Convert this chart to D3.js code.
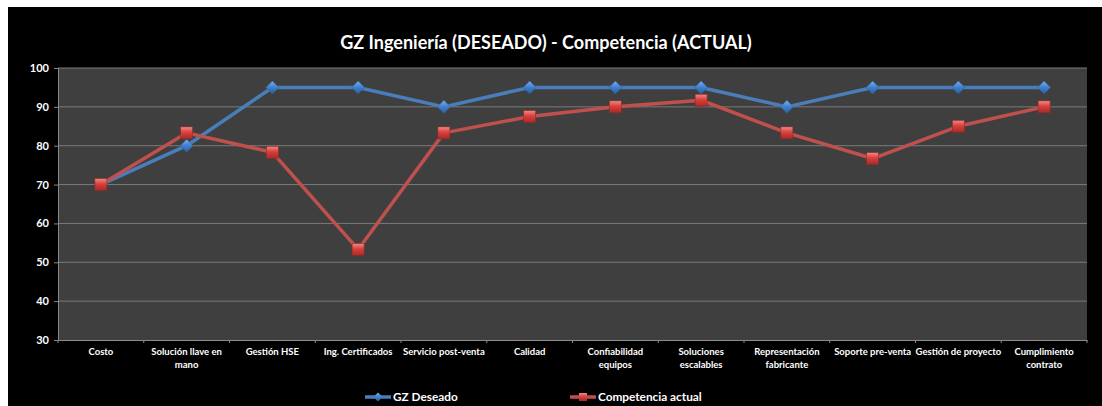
<!DOCTYPE html>
<html><head><meta charset="utf-8">
<script src="https://cdn.jsdelivr.net/npm/d3@7"></script>
<style>
html,body{margin:0;padding:0;background:#fff;}
svg{display:block;}
text{font-family:Lato,"Open Sans",sans-serif;fill:#fff;}
</style></head>
<body>
<script>
const categories = [
  ["Costo"],
  ["Solución llave en","mano"],
  ["Gestión HSE"],
  ["Ing. Certificados"],
  ["Servicio post-venta"],
  ["Calidad"],
  ["Confiabilidad","equipos"],
  ["Soluciones","escalables"],
  ["Representación","fabricante"],
  ["Soporte pre-venta"],
  ["Gestión de proyecto"],
  ["Cumplimiento","contrato"]
];
const gzDeseado = [70, 80, 95, 95, 90, 95, 95, 95, 90, 95, 95, 95];
const competenciaActual = [70, 83.3, 78.3, 53.3, 83.3, 87.5, 90, 91.7, 83.3, 76.7, 85, 90];
const yTicks = [30, 40, 50, 60, 70, 80, 90, 100];
const seriesNames = ["GZ Deseado", "Competencia actual"];
const title = "GZ Ingeniería (DESEADO) - Competencia (ACTUAL)";

const W = 1102, H = 406;
const svg = d3.select("body").append("svg").attr("width", W).attr("height", H);
const defs = svg.append("defs");

const rg = defs.append("linearGradient").attr("id","redGrad").attr("x1","0").attr("y1","0").attr("x2","0").attr("y2","1");
rg.append("stop").attr("offset","0").attr("stop-color","#f08a86");
rg.append("stop").attr("offset","0.45").attr("stop-color","#d9403b");
rg.append("stop").attr("offset","1").attr("stop-color","#a82a27");
const bg = defs.append("linearGradient").attr("id","blueGrad").attr("x1","0").attr("y1","0").attr("x2","0").attr("y2","1");
bg.append("stop").attr("offset","0").attr("stop-color","#7fb0e8");
bg.append("stop").attr("offset","0.5").attr("stop-color","#3f7fcf");
bg.append("stop").attr("offset","1").attr("stop-color","#2c5f9e");

svg.append("rect").attr("x", 8).attr("y", 7).attr("width", W - 8).attr("height", H - 7).attr("fill", "#000");

const pLeft = 58, pRight = 1087, pTop = 68, pBottom = 340;

const x = d3.scaleBand().domain(d3.range(categories.length)).range([pLeft, pRight]);
const y = d3.scaleLinear().domain([30, 100]).range([pBottom, pTop]);

svg.append("rect").attr("x", pLeft).attr("y", pTop).attr("width", pRight - pLeft).attr("height", pBottom - pTop).attr("fill", "#3f3f3f");

svg.append("g").selectAll("line").data(yTicks.filter(d => d > 30)).join("line")
  .attr("x1", pLeft).attr("x2", pRight)
  .attr("y1", d => y(d)).attr("y2", d => y(d))
  .attr("stroke", "#7a7a7a").attr("stroke-width", 1);

const yAxis = svg.append("g").attr("transform", `translate(${pLeft},0)`)
  .call(d3.axisLeft(y).tickValues(yTicks).tickSize(4).tickPadding(5));
yAxis.select(".domain").attr("stroke", "#8a8a8a");
yAxis.selectAll(".tick line").attr("stroke", "#8a8a8a");
yAxis.selectAll("text").attr("fill", "#fff").attr("font-size", "11px").attr("font-weight", "bold")
  .style("font-family", "Lato,'Open Sans',sans-serif");

const xAxis = svg.append("g").attr("transform", `translate(0,${pBottom})`)
  .call(d3.axisBottom(x).tickSize(0).tickFormat(""));
xAxis.select(".domain").attr("stroke", "#8a8a8a");
svg.append("g").selectAll("line").data(d3.range(categories.length + 1)).join("line")
  .attr("x1", i => pLeft + i * x.step()).attr("x2", i => pLeft + i * x.step())
  .attr("y1", pBottom).attr("y2", pBottom + 3)
  .attr("stroke", "#8a8a8a");

const lab = svg.append("g").selectAll("text").data(categories).join("text")
  .attr("x", (d, i) => x(i) + x.bandwidth() / 2)
  .attr("y", pBottom + 15)
  .attr("text-anchor", "middle")
  .attr("font-size", "9.5px").attr("font-weight", "bold");
lab.selectAll("tspan").data(d => d).join("tspan")
  .attr("x", function() { return this.parentNode.getAttribute("x"); })
  .attr("dy", (d, i) => i === 0 ? 0 : 13)
  .text(d => d);

svg.append("text").attr("x", 546).attr("y", 49).attr("text-anchor", "middle")
  .attr("font-size", "18px").attr("font-weight", "bold").text(title);

const line = d3.line().x((d, i) => x(i) + x.bandwidth() / 2).y(d => y(d));

const blue = "#4a7ebb", red = "#c0504d";

svg.append("path").datum(gzDeseado).attr("d", line).attr("fill", "none")
  .attr("stroke", blue).attr("stroke-width", 3.5).attr("stroke-linejoin", "round");
svg.append("path").datum(competenciaActual).attr("d", line).attr("fill", "none")
  .attr("stroke", red).attr("stroke-width", 3.5).attr("stroke-linejoin", "round");

function diamondPath(s) { return `M0,${-s}L${s},0L0,${s}L${-s},0Z`; }

svg.append("g").selectAll("path").data(gzDeseado).join("path")
  .attr("transform", (d, i) => `translate(${x(i) + x.bandwidth() / 2},${y(d)})`)
  .attr("d", diamondPath(6.5))
  .attr("fill", "url(#blueGrad)").attr("stroke", "#2f5f98").attr("stroke-width", 0.6);

svg.append("g").selectAll("rect").data(competenciaActual).join("rect")
  .attr("x", (d, i) => x(i) + x.bandwidth() / 2 - 6)
  .attr("y", d => y(d) - 6)
  .attr("width", 12).attr("height", 12)
  .attr("fill", "url(#redGrad)").attr("stroke", "#8e2a27").attr("stroke-width", 0.6);

const leg = svg.append("g");
const legItems = [
  {name: seriesNames[0], x0: 365, color: blue, marker: "diamond"},
  {name: seriesNames[1], x0: 570, color: red, marker: "square"}
];
const ly = 397;
legItems.forEach(it => {
  leg.append("line").attr("x1", it.x0).attr("x2", it.x0 + 26).attr("y1", ly).attr("y2", ly)
    .attr("stroke", it.color).attr("stroke-width", 3.5);
  if (it.marker === "diamond") {
    leg.append("path").attr("transform", `translate(${it.x0 + 13},${ly})`).attr("d", diamondPath(4.5))
      .attr("fill", "url(#blueGrad)");
  } else {
    leg.append("rect").attr("x", it.x0 + 9).attr("y", ly - 4).attr("width", 8).attr("height", 8)
      .attr("fill", "url(#redGrad)");
  }
  leg.append("text").attr("x", it.x0 + 28).attr("y", ly + 4).attr("font-size", "11.8px").attr("font-weight", "bold")
    .text(it.name);
});
</script>
</body></html>
